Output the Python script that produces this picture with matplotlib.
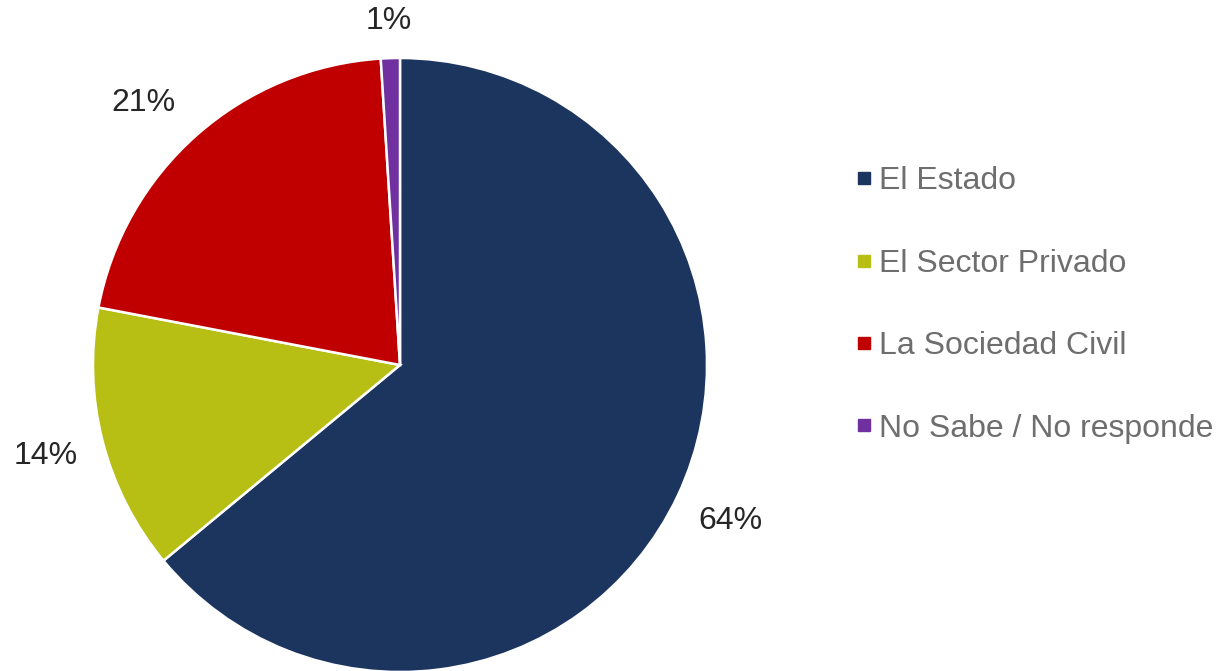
import numpy as np
import matplotlib
matplotlib.use("Agg")
import matplotlib.pyplot as plt
from matplotlib.lines import Line2D

plt.rcParams['font.family'] = ['Liberation Sans', 'DejaVu Sans']

categories = ["El Estado", "El Sector Privado", "La Sociedad Civil", "No Sabe / No responde"]
values = [64, 14, 21, 1]
colors = ["#1C355E", "#B7BE14", "#C00000", "#7030A0"]
# label placement: distance from centre (radius units) and angle nudge (deg)
label_dist = [1.19, 1.19, 1.195, 1.12]
label_nudge = [0, 0, 3, 0]

fig = plt.figure(figsize=(12.17, 6.71), dpi=100)
W, H = 1217, 671
cx, cy, r = 400, 671 - 365, 307
ax = fig.add_axes([(cx - r) / W, (cy - r) / H, 2 * r / W, 2 * r / H])

wedges, _ = ax.pie(values, colors=colors, startangle=90, counterclock=False,
                   radius=1, wedgeprops=dict(edgecolor="white", linewidth=1.8))
ax.set_xlim(-1, 1)
ax.set_ylim(-1, 1)
ax.set_aspect("equal")
ax.axis("off")

for w, v, d, n in zip(wedges, values, label_dist, label_nudge):
    ang = np.deg2rad((w.theta1 + w.theta2) / 2 + n)
    ax.text(d * np.cos(ang), d * np.sin(ang), f"{v}%", ha="center", va="center",
            fontsize=23, color="#262626", clip_on=False)

handles = [Line2D([], [], marker="s", linestyle="none", markersize=8,
                  markerfacecolor=c, markeredgecolor=c) for c in colors]
leg = fig.legend(handles, categories, loc="center left", bbox_to_anchor=(842 / W, 1 - 305 / H),
                 frameon=False, fontsize=23, labelcolor="#6E6E6E",
                 handlelength=0.6, handletextpad=0.15, labelspacing=1.64, borderaxespad=0)

fig.savefig("out.png", dpi=100)
